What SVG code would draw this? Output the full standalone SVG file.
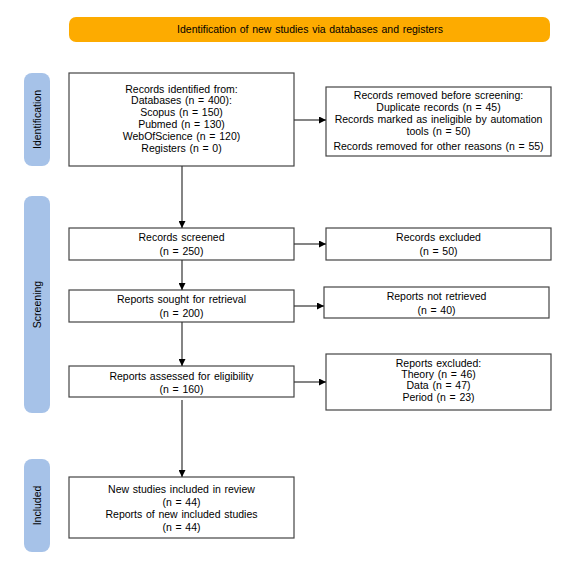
<svg xmlns="http://www.w3.org/2000/svg" width="562" height="566" viewBox="0 0 562 566">
<defs>
<style>
.box{fill:#fff;stroke:#444;stroke-width:1.2}
.side{fill:#A6C2E8}
.t{font-family:"Liberation Sans",Arial,sans-serif;font-size:10.5px;fill:#000;text-anchor:middle;word-spacing:0.8px}
.c{stroke:#333;stroke-width:1.2;fill:none;marker-end:url(#ah)}
</style>
<marker id="ah" viewBox="0 0 10 10" refX="10" refY="5" markerWidth="7" markerHeight="7" markerUnits="userSpaceOnUse" orient="auto">
<path d="M0,0 L10,5 L0,10 z" fill="#000"/>
</marker>
</defs>
<rect width="562" height="566" fill="#fff"/>
<g id="banner">
<rect x="69" y="17" width="481" height="25" rx="7" fill="#FDAB00"/>
<text class="t" x="310" y="33">Identification of new studies via databases and registers</text>
</g>
<g id="side-identification">
<rect class="side" x="24" y="73" width="26" height="93" rx="8"/>
<text class="t" transform="translate(41,119.5) rotate(-90)">Identification</text>
</g>
<g id="side-screening">
<rect class="side" x="24" y="196" width="26" height="217" rx="8"/>
<text class="t" transform="translate(41,304.5) rotate(-90)">Screening</text>
</g>
<g id="side-included">
<rect class="side" x="24" y="459" width="26" height="93" rx="8"/>
<text class="t" transform="translate(41,505.5) rotate(-90)">Included</text>
</g>
<g id="identified">
<rect class="box" x="69" y="73" width="225" height="93"/>
<text class="t" x="181.5" y="93">Records identified from:</text>
<text class="t" x="181.5" y="104">Databases (n = 400):</text>
<text class="t" x="181.5" y="116">Scopus (n = 150)</text>
<text class="t" x="181.5" y="128">Pubmed (n = 130)</text>
<text class="t" x="181.5" y="140">WebOfScience (n = 120)</text>
<text class="t" x="181.5" y="152">Registers (n = 0)</text>
</g>
<g id="removed">
<rect class="box" x="326" y="87" width="225" height="69"/>
<text class="t" x="438.5" y="99">Records removed before screening:</text>
<text class="t" x="438.5" y="111">Duplicate records (n = 45)</text>
<text class="t" x="438.5" y="123">Records marked as ineligible by automation</text>
<text class="t" x="438.5" y="135">tools (n = 50)</text>
<text class="t" x="438.5" y="150">Records removed for other reasons (n = 55)</text>
</g>
<g id="screened">
<rect class="box" x="69" y="228" width="225" height="32"/>
<text class="t" x="181.5" y="241">Records screened</text>
<text class="t" x="181.5" y="255">(n = 250)</text>
</g>
<g id="excluded">
<rect class="box" x="326" y="228" width="225" height="32"/>
<text class="t" x="438.5" y="241">Records excluded</text>
<text class="t" x="438.5" y="255">(n = 50)</text>
</g>
<g id="sought">
<rect class="box" x="69" y="290" width="225" height="32"/>
<text class="t" x="181.5" y="303">Reports sought for retrieval</text>
<text class="t" x="181.5" y="317">(n = 200)</text>
</g>
<g id="notretrieved">
<rect class="box" x="324" y="287" width="225" height="31"/>
<text class="t" x="436.5" y="300">Reports not retrieved</text>
<text class="t" x="436.5" y="314">(n = 40)</text>
</g>
<g id="assessed">
<rect class="box" x="69" y="366" width="225" height="31"/>
<text class="t" x="181.5" y="380">Reports assessed for eligibility</text>
<text class="t" x="181.5" y="393">(n = 160)</text>
</g>
<g id="reportsexcluded">
<rect class="box" x="326" y="354" width="225" height="56"/>
<text class="t" x="438.5" y="367">Reports excluded:</text>
<text class="t" x="438.5" y="378">Theory (n = 46)</text>
<text class="t" x="438.5" y="389">Data (n = 47)</text>
<text class="t" x="438.5" y="401">Period (n = 23)</text>
</g>
<g id="included">
<rect class="box" x="69" y="477" width="225" height="61"/>
<text class="t" x="181.5" y="493">New studies included in review</text>
<text class="t" x="181.5" y="506">(n = 44)</text>
<text class="t" x="181.5" y="518">Reports of new included studies</text>
<text class="t" x="181.5" y="531">(n = 44)</text>
</g>
<g id="connectors">
<path class="c" d="M294,120 H326"/>
<path class="c" d="M294,244 H326"/>
<path class="c" d="M294,306 H324"/>
<path class="c" d="M294,382 H326"/>
<path class="c" d="M182,166 V228"/>
<path class="c" d="M182,260 V290"/>
<path class="c" d="M182,322 V366"/>
<path class="c" d="M182,400 V477"/>
</g>
</svg>
